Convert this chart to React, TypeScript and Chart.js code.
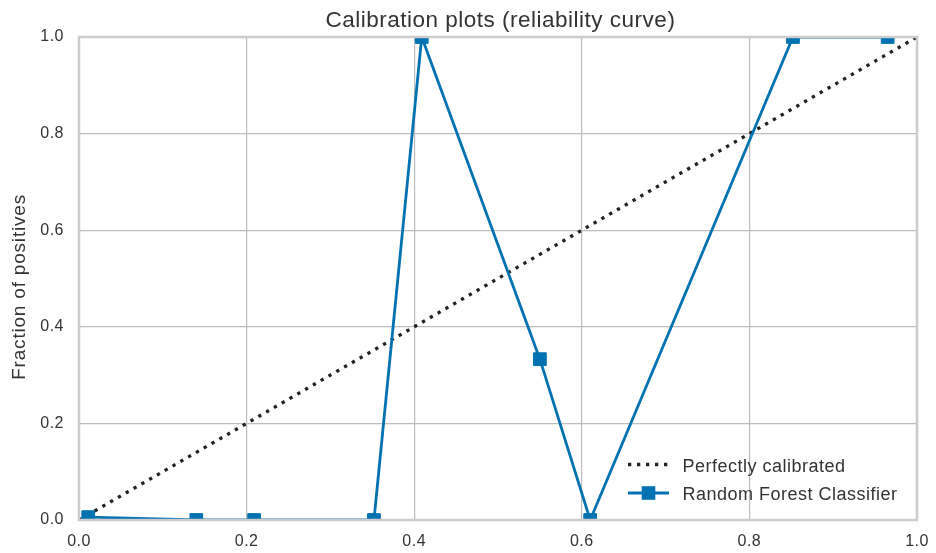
import { useEffect, useRef } from "react";
import { Chart, registerables } from "chart.js";

Chart.register(...registerables);

// ---- data ----
const probPred = [0.011, 0.14, 0.209, 0.352, 0.409, 0.55, 0.61, 0.852, 0.965];
const fracPos = [0.006, 0, 0, 0, 1, 0.333, 0, 1, 1];
const diagX = [0, 1];
const diagY = [0, 1];
const xTicks = [0, 0.2, 0.4, 0.6, 0.8, 1.0];
const yTicks = [0, 0.2, 0.4, 0.6, 0.8, 1.0];
const titleText = "Calibration plots (reliability curve)";
const yLabelText = "Fraction of positives";
const seriesNames = ["Perfectly calibrated", "Random Forest Classifier"];

const BLUE = "#0072B2";
const DOT = "#222222";
const TEXT = "#333333";
const FONT = "'Liberation Sans', Arial, sans-serif";

export default function App() {
  const ref = useRef<HTMLCanvasElement | null>(null);

  useEffect(() => {
    const canvas = ref.current;
    if (!canvas) return;

    const spacing = {
      id: "spacing",
      beforeLayout(chart: any) {
        chart.ctx.letterSpacing = "0.5px";
      },
      beforeDraw(chart: any) {
        chart.ctx.letterSpacing = "0.5px";
      },
    };

    const decor = {
      id: "decor",
      afterDatasetsDraw(chart: any) {
        const { ctx, chartArea: a } = chart;
        ctx.save();
        ctx.strokeStyle = "#cccccc";
        ctx.lineWidth = 2.5;
        ctx.strokeRect(a.left, a.top, a.right - a.left, a.bottom - a.top);
        ctx.restore();
      },
      afterDraw(chart: any) {
        const { ctx, chartArea: a } = chart;
        ctx.save();
        ctx.fillStyle = TEXT;
        ctx.textBaseline = "alphabetic";
        ctx.textAlign = "left";

        // title
        ctx.letterSpacing = "0.5px";
        ctx.font = `22.5px ${FONT}`;
        ctx.fillText(titleText, 325.5, 26.5);

        // y label
        ctx.save();
        ctx.font = `19px ${FONT}`;
        ctx.letterSpacing = "0.8px";
        ctx.translate(24.5, 379.8);
        ctx.rotate(-Math.PI / 2);
        ctx.fillText(yLabelText, 0, 0);
        ctx.restore();

        // legend
        const sx0 = a.right - 289;
        const sx1 = a.right - 248;
        const tx = a.right - 234.5;
        const y1 = a.bottom - 55.5;
        const y2 = a.bottom - 27;

        ctx.save();
        ctx.strokeStyle = DOT;
        ctx.lineWidth = 3.3;
        ctx.setLineDash([3.3, 5.7]);
        ctx.beginPath();
        ctx.moveTo(sx0, y1);
        ctx.lineTo(sx1, y1);
        ctx.stroke();
        ctx.restore();

        ctx.save();
        ctx.strokeStyle = BLUE;
        ctx.lineWidth = 2.8;
        ctx.beginPath();
        ctx.moveTo(sx0, y2);
        ctx.lineTo(sx1, y2);
        ctx.stroke();
        ctx.fillStyle = BLUE;
        const mx = (sx0 + sx1) / 2;
        ctx.fillRect(mx - 6.8, y2 - 6.8, 13.6, 13.6);
        ctx.restore();

        ctx.letterSpacing = "0.5px";
        ctx.font = `18px ${FONT}`;
        ctx.fillStyle = TEXT;
        ctx.fillText(seriesNames[0], tx, y1 + 7.5);
        ctx.fillText(seriesNames[1], tx, y2 + 7);
        ctx.restore();
      },
    };

    const gridColor = (c: any) => {
      const v = c.tick ? c.tick.value : null;
      if (v === 0 || v === 1) return "rgba(0,0,0,0)";
      return "#bdbdbd";
    };

    const chart = new Chart(canvas, {
      type: "scatter",
      data: {
        datasets: [
          {
            label: seriesNames[1],
            data: probPred.map((x, i) => ({ x, y: fracPos[i] })),
            showLine: true,
            borderColor: BLUE,
            backgroundColor: BLUE,
            borderWidth: 2.8,
            pointStyle: "rect",
            pointRadius: 9,
            pointHoverRadius: 9,
            pointBorderWidth: 1,
            pointBorderColor: BLUE,
            pointBackgroundColor: BLUE,
            clip: 0,
            order: 0,
          } as any,
          {
            label: seriesNames[0],
            data: diagX.map((x, i) => ({ x, y: diagY[i] })),
            showLine: true,
            borderColor: DOT,
            borderWidth: 3.3,
            borderDash: [3.3, 5.7],
            borderCapStyle: "butt",
            pointRadius: 0,
            pointHoverRadius: 0,
            clip: 0,
            order: 1,
          } as any,
        ],
      },
      options: {
        animation: false,
        responsive: false,
        maintainAspectRatio: false,
        events: [],
        layout: { padding: { top: 37, right: 19, left: 0, bottom: 0 } },
        plugins: {
          legend: { display: false },
          title: { display: false },
          tooltip: { enabled: false },
        },
        scales: {
          x: {
            type: "linear",
            min: 0,
            max: 1,
            afterBuildTicks: (s: any) => {
              s.ticks = xTicks.map((v) => ({ value: v }));
            },
            afterFit: (s: any) => {
              s.height = 33;
              s.paddingLeft = 0;
              s.paddingRight = 0;
            },
            ticks: {
              callback: (v: any) => Number(v).toFixed(1),
              font: { family: FONT, size: 16 },
              color: TEXT,
              padding: 12,
              maxRotation: 0,
            },
            grid: { color: gridColor, lineWidth: 1.2, drawTicks: false },
            border: { display: false },
          },
          y: {
            type: "linear",
            min: 0,
            max: 1,
            afterBuildTicks: (s: any) => {
              s.ticks = yTicks.map((v) => ({ value: v }));
            },
            afterFit: (s: any) => {
              s.width = 79;
              s.paddingTop = 0;
              s.paddingBottom = 0;
            },
            ticks: {
              callback: (v: any) => Number(v).toFixed(1),
              font: { family: FONT, size: 16 },
              color: TEXT,
              padding: 15,
            },
            grid: { color: gridColor, lineWidth: 1.2, drawTicks: false },
            border: { display: false },
          },
        },
      } as any,
      plugins: [spacing, decor],
    });

    return () => chart.destroy();
  }, []);

  return (
    <div style={{ position: "fixed", left: 0, top: 0, width: 936, height: 553, background: "#fff" }}>
      <canvas ref={ref} width={936} height={553} style={{ display: "block", width: 936, height: 553 }} />
    </div>
  );
}
